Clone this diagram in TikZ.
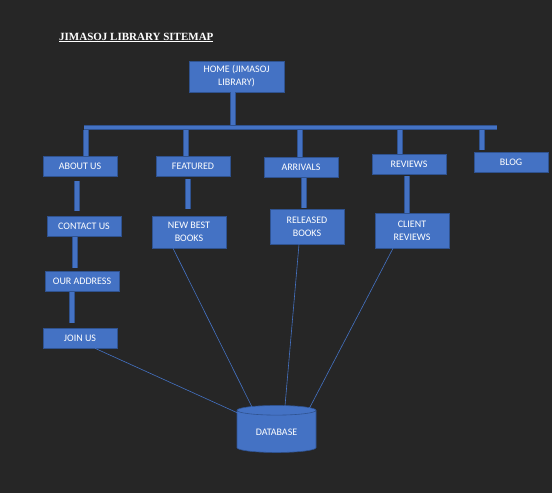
\documentclass[tikz,border=0pt]{standalone}
\usepackage{fontspec}
\setmainfont{Carlito}
\newfontfamily\titlefont{Liberation Serif}
\usetikzlibrary{shapes.geometric}

\definecolor{pagebg}{HTML}{262626}
\definecolor{boxblue}{HTML}{4472C4}
\definecolor{boxline}{HTML}{2F528F}

\tikzset{
  pagebox/.style={rectangle, fill=boxblue, draw=boxline, line width=0.6pt,
    minimum width=74pt, minimum height=20pt, inner sep=2pt,
    text=white, align=center, font=\fontsize{10}{13}\selectfont},
  stem/.style={draw=boxline, line width=0.7pt, double=boxblue, double distance=3.8pt},
  link/.style={draw=boxblue, line width=0.6pt}
}

\begin{document}
\begin{tikzpicture}[x=1pt, y=-1pt]

% Background and page size
\fill[pagebg] (0,0) rectangle (552,493);
\useasboundingbox (0,0) rectangle (552,493);

% Title
\node[anchor=base west, inner sep=0pt, text=white, font=\titlefont\bfseries\fontsize{11}{13}\selectfont]
  (title) at (59,40) {\underline{JIMASOJ LIBRARY SITEMAP}};

% Home page
\node[pagebox, minimum width=95pt, minimum height=31pt] (home) at (236.5,76.5) {HOME (JIMASOJ\\LIBRARY)};

% First level pages
\node[pagebox] (aboutus) at (80,166) {ABOUT US};
\node[pagebox] (featured) at (193,166) {FEATURED};
\node[pagebox] (arrivals) at (301,167) {ARRIVALS};
\node[pagebox] (reviews) at (409,164) {REVIEWS};
\node[pagebox] (blog) at (511,162) {BLOG};

% Second level pages
\node[pagebox] (contactus) at (84,226) {CONTACT US};
\node[pagebox, minimum height=32pt] (newbest) at (189,232) {NEW BEST\\BOOKS};
\node[pagebox, minimum height=35pt] (released) at (307,226.5) {RELEASED\\BOOKS};
\node[pagebox, minimum height=35pt] (clientrev) at (412,230.5) {CLIENT\\REVIEWS};
\node[pagebox] (address) at (82,281) {OUR ADDRESS};
\node[pagebox] (joinus) at (80,338) {JOIN US};

% Database
\node[cylinder, shape border rotate=90, aspect=0.2, fill=boxblue, draw=boxline, line width=0.6pt,
  minimum width=79pt, minimum height=47pt, text=white, font=\fontsize{10}{13}\selectfont]
  (db) at (276.5,432.5) {DATABASE};

% Main bar under the home page
\coordinate (barL) at (84,127.5);
\coordinate (barR) at (497,127.5);
\coordinate (barbot) at (84,130);
\draw[stem] ([xshift=-3.5pt]home.south) -- ([xshift=-3.5pt]home.south |- barL);
\draw[stem] (barL) -- (barR);

% Drops to the first level
\draw[stem] ([xshift=6pt]aboutus.north) -- ([xshift=6pt]aboutus.north |- barbot);
\draw[stem] ([xshift=-7pt]featured.north) -- ([xshift=-7pt]featured.north |- barbot);
\draw[stem] ([xshift=-1pt]arrivals.north) -- ([xshift=-1pt]arrivals.north |- barbot);
\draw[stem] ([xshift=-9pt]reviews.north) -- ([xshift=-9pt]reviews.north |- barbot);
\draw[stem] ([xshift=-29pt,yshift=2pt]blog.north) -- ([xshift=-29pt]blog.north |- barbot);

% Stems between levels
\draw[stem, shorten <=5pt, shorten >=5pt] ([xshift=-3pt]aboutus.south) -- ([xshift=-3pt]aboutus.south |- contactus.north);
\draw[stem, shorten <=3pt, shorten >=7pt] ([xshift=-5pt]featured.south) -- ([xshift=-5pt]featured.south |- newbest.north);
\draw[stem, shorten <=1pt, shorten >=1pt] ([xshift=3pt]arrivals.south) -- ([xshift=3pt]arrivals.south |- released.north);
\draw[stem, shorten <=2pt] ([xshift=-2pt]reviews.south) -- ([xshift=-2pt]reviews.south |- clientrev.north);
\draw[stem, shorten <=1pt, shorten >=3pt] ([xshift=-9pt]contactus.south) -- ([xshift=-9pt]contactus.south |- address.north);
\draw[stem, shorten <=1pt, shorten >=5pt] ([xshift=-10pt]address.south) -- ([xshift=-10pt]address.south |- joinus.north);

% Links to the database
\draw[link] ([xshift=15pt]joinus.south) -- ([shift={(-36.5,-18.5)}]db.center);
\draw[link] ([xshift=-16pt]newbest.south) -- ([shift={(-24.5,-25.5)}]db.center);
\draw[link] ([xshift=-8pt]released.south) -- ([shift={(8.5,-26.5)}]db.center);
\draw[link] ([xshift=-19pt]clientrev.south) -- ([shift={(32.5,-23.5)}]db.center);

\end{tikzpicture}
\end{document}
